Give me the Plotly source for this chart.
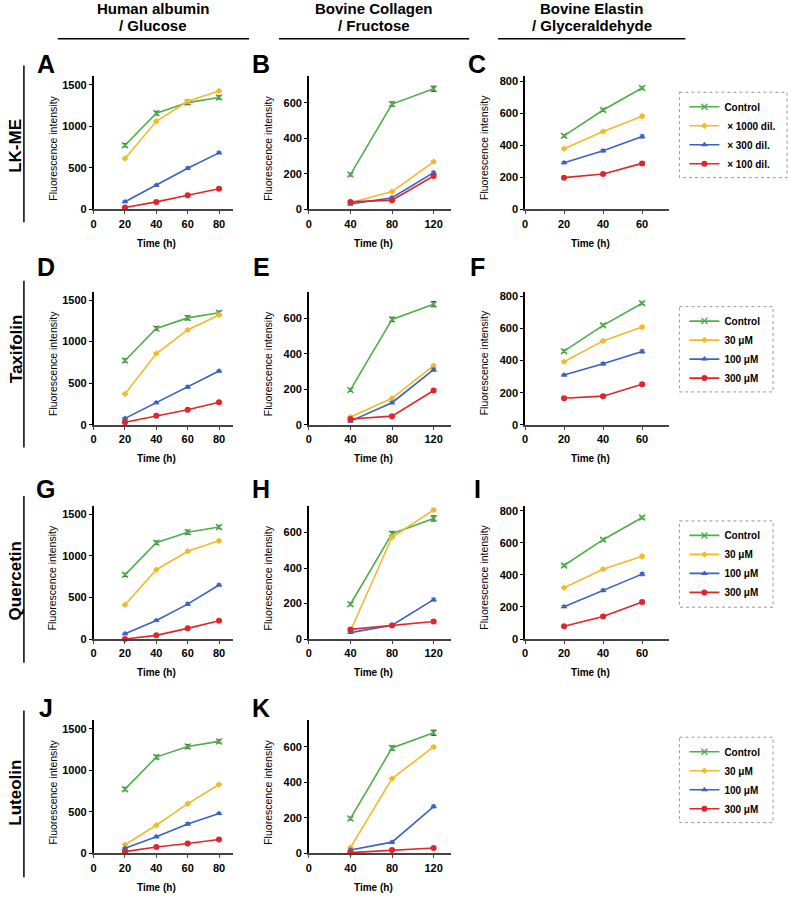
import plotly.graph_objects as go

W, H = 789, 900
FONT = "Liberation Sans, Arial, sans-serif"

# ---------------- data ----------------
TIME_A = [20, 40, 60, 80]
TIME_B = [40, 80, 120]
TIME_C = [20, 40, 60]

CTRL_A = [772, 1158, 1285, 1347]
CTRL_B = [196, 594, 680]
CTRL_C = [459, 620, 758]
CTRL_A_ERR = [20, 22, 25, 20]
CTRL_B_ERR = [8, 12, 15]
CTRL_C_ERR = [8, 8, 8]
TRT_A_ERR = [10, 12, 15, 12]
TRT_B_ERR = [5, 6, 8]
TRT_C_ERR = [6, 8, 10]

A_1000 = [612, 1060, 1300, 1424]
A_300 = [92, 290, 495, 680]
A_100 = [22, 90, 170, 248]
B_1000 = [37, 100, 268]
B_300 = [30, 66, 207]
B_100 = [42, 52, 188]
C_1000 = [378, 486, 581]
C_300 = [291, 366, 455]
C_100 = [198, 221, 287]

D_30 = [370, 856, 1140, 1320]
D_100 = [76, 265, 454, 645]
D_300 = [30, 107, 179, 271]
E_30 = [43, 149, 333]
E_100 = [20, 124, 310]
E_300 = [32, 48, 193]
F_30 = [393, 523, 610]
F_100 = [310, 380, 457]
F_300 = [165, 178, 252]

G_30 = [411, 834, 1055, 1183]
G_100 = [62, 222, 420, 650]
G_300 = [0, 44, 128, 219]
H_30 = [45, 574, 728]
H_100 = [36, 78, 222]
H_300 = [54, 76, 99]
I_30 = [320, 435, 516]
I_100 = [202, 303, 405]
I_300 = [80, 140, 231]

J_30 = [103, 338, 597, 828]
J_100 = [60, 199, 354, 478]
J_300 = [20, 76, 119, 167]
K_30 = [32, 422, 600]
K_100 = [19, 63, 264]
K_300 = [4, 19, 30]

LABELS_DIL = ["Control", "\u00a0× 1000 dil.", "\u00a0× 300 dil.", "\u00a0× 100 dil."]
LABELS_UM = ["Control", "30 μM", "100 μM", "300 μM"]
COL_TITLES = [("Human albumin", "/ Glucose"), ("Bovine Collagen", "/ Fructose"),
              ("Bovine Elastin", "/ Glyceraldehyde")]
ROW_TITLES = ["LK-ME", "Taxifolin", "Quercetin", "Luteolin"]
PANEL_LETTERS = ["A", "B", "C", "D", "E", "F", "G", "H", "I", "J", "K"]

X_TICKS = {1: [0, 20, 40, 60, 80], 2: [0, 40, 80, 120], 3: [0, 20, 40, 60]}
Y_TICKS = {1: [0, 500, 1000, 1500], 2: [0, 200, 400, 600], 3: [0, 200, 400, 600, 800]}
X_RANGE = {1: [0, 89], 2: [0, 137], 3: [0, 74]}
Y_RANGE = {1: [0, 1600], 2: [0, 750], 3: [0, 830]}

# ---------------- style ----------------
COLORS = ["#4EAE48", "#F2B92B", "#3A62C2", "#E0262A"]
SYMBOLS = ["x-thin-open", "diamond", "triangle-up", "circle"]
SIZES = [6, 5, 6, 6]

COL_X = {1: (91, 231), 2: (307, 450), 3: (524, 669)}
ROW_Y = {1: (76, 210), 2: (293, 427), 3: (509, 643), 4: (725, 859)}


def px(x):
    return x / W


def py(y):
    return 1 - y / H


panels = [
    (1, 1, TIME_A, CTRL_A, CTRL_A_ERR, [A_1000, A_300, A_100], TRT_A_ERR),
    (1, 2, TIME_B, CTRL_B, CTRL_B_ERR, [B_1000, B_300, B_100], TRT_B_ERR),
    (1, 3, TIME_C, CTRL_C, CTRL_C_ERR, [C_1000, C_300, C_100], TRT_C_ERR),
    (2, 1, TIME_A, CTRL_A, CTRL_A_ERR, [D_30, D_100, D_300], TRT_A_ERR),
    (2, 2, TIME_B, CTRL_B, CTRL_B_ERR, [E_30, E_100, E_300], TRT_B_ERR),
    (2, 3, TIME_C, CTRL_C, CTRL_C_ERR, [F_30, F_100, F_300], TRT_C_ERR),
    (3, 1, TIME_A, CTRL_A, CTRL_A_ERR, [G_30, G_100, G_300], TRT_A_ERR),
    (3, 2, TIME_B, CTRL_B, CTRL_B_ERR, [H_30, H_100, H_300], TRT_B_ERR),
    (3, 3, TIME_C, CTRL_C, CTRL_C_ERR, [I_30, I_100, I_300], TRT_C_ERR),
    (4, 1, TIME_A, CTRL_A, CTRL_A_ERR, [J_30, J_100, J_300], TRT_A_ERR),
    (4, 2, TIME_B, CTRL_B, CTRL_B_ERR, [K_30, K_100, K_300], TRT_B_ERR),
]
legend_panel = {1: 3, 2: 3, 3: 3, 4: 2}
legend_names = {1: "legend", 2: "legend2", 3: "legend3", 4: "legend4"}

fig = go.Figure()
layout = dict()
annotations = []
shapes = []

for i, (row, col, t, ctrl, cerr, trts, terr) in enumerate(panels):
    n = i + 1
    xa = "x" if n == 1 else f"x{n}"
    ya = "y" if n == 1 else f"y{n}"
    series = [ctrl] + trts
    errs = [cerr] + [terr] * 3
    labels = LABELS_DIL if row == 1 else LABELS_UM
    for s in range(4):
        fig.add_trace(go.Scatter(
            x=t, y=series[s], mode="lines+markers", name=labels[s],
            xaxis=xa, yaxis=ya, cliponaxis=False,
            line=dict(color=COLORS[s], width=1.6),
            marker=dict(symbol=SYMBOLS[s], size=SIZES[s], color=COLORS[s],
                        line=dict(color=COLORS[s], width=1.4 if s == 0 else 0)),
            error_y=dict(type="data", array=errs[s], visible=True,
                         color="#444" if s == 0 else COLORS[s], thickness=1, width=2.5),
            legend=legend_names[row],
            showlegend=(col == legend_panel[row]),
        ))
    x0, x1 = COL_X[col]
    y0, y1 = ROW_Y[row]
    layout["xaxis" if n == 1 else f"xaxis{n}"] = dict(
        domain=[px(x0), px(x1)], anchor=ya, range=X_RANGE[col], tickvals=X_TICKS[col],
        showline=True, linecolor="#444", linewidth=2, ticks="outside", ticklen=3,
        tickcolor="#444", showgrid=False, zeroline=False,
        tickfont=dict(family=FONT, size=11, color="black", weight="bold"))
    layout["yaxis" if n == 1 else f"yaxis{n}"] = dict(
        domain=[py(y1), py(y0)], anchor=xa, range=Y_RANGE[col], tickvals=Y_TICKS[col],
        showline=True, linecolor="black", linewidth=1.5, ticks="outside", ticklen=3,
        tickcolor="black", showgrid=False, zeroline=False,
        tickfont=dict(family=FONT, size=11, color="black", weight="bold"))
    # panel letter
    annotations.append(dict(text=f"<b>{PANEL_LETTERS[i]}</b>", x=px(x0 - 48),
                            y=py({1: 63, 2: 268, 3: 492, 4: 713}[row]),
                            xref="paper", yref="paper", showarrow=False,
                            xanchor="center", yanchor="middle",
                            font=dict(family=FONT, size=25, color="black")))
    # y title
    annotations.append(dict(text="Fluorescence intensity", x=px(x0 - 41),
                            y=py((y0 + y1) / 2 + 5), xref="paper", yref="paper",
                            showarrow=False, textangle=-90, xanchor="center", yanchor="middle",
                            font=dict(family=FONT, size=10.5, color="black")))
    # x title
    annotations.append(dict(text="<b>Time (h)</b>", x=px((x0 + x1) / 2 - 7), y=py(y1 + 34),
                            xref="paper", yref="paper", showarrow=False,
                            xanchor="center", yanchor="middle",
                            font=dict(family=FONT, size=10, color="black")))

# column headers
hdr_lines = [(55, 247), (277, 468), (497, 685)]
for (l1, l2), (a, b) in zip(COL_TITLES, hdr_lines):
    cx = (a + b) / 2
    for txt, yy in [(l1, 8), (l2, 25)]:
        annotations.append(dict(text=f"<b>{txt}</b>", x=px(cx), y=py(yy), xref="paper",
                                yref="paper", showarrow=False, xanchor="center",
                                yanchor="middle", font=dict(family=FONT, size=15, color="black")))
    shapes.append(dict(type="line", xref="paper", yref="paper", x0=px(a), x1=px(b),
                       y0=py(38), y1=py(38), line=dict(color="black", width=1.5)))

# row labels and lines
row_spans = [(65, 223, 146), (282, 450, 350), (499, 667, 584), (715, 883, 798)]
for name, (a, b, c) in zip(ROW_TITLES, row_spans):
    annotations.append(dict(text=f"<b>{name}</b>", x=px(13), y=py(c), xref="paper",
                            yref="paper", showarrow=False, textangle=-90, xanchor="center",
                            yanchor="middle", font=dict(family=FONT, size=17, color="black")))
    shapes.append(dict(type="line", xref="paper", yref="paper", x0=px(21), x1=px(21),
                       y0=py(a), y1=py(b), line=dict(color="black", width=1.5)))

# legend boxes
leg_boxes = [(679, 92, 787, 178), (679, 308, 773, 394), (679, 524, 773, 611), (679, 742, 773, 828)]
for k, (a, b, c, d) in enumerate(leg_boxes):
    shapes.append(dict(type="rect", xref="paper", yref="paper", x0=px(a), x1=px(c),
                       y0=py(b), y1=py(d), line=dict(color="#999", width=1, dash="dot")))
    lname = legend_names[k + 1]
    layout[lname] = dict(x=px(684), y=py(b), xanchor="left", yanchor="top",
                         bgcolor="rgba(0,0,0,0)", borderwidth=0, itemwidth=30,
                         tracegroupgap=0,
                         font=dict(family=FONT, size=10, color="black", weight="bold"))

fig.update_layout(
    width=W, height=H, margin=dict(l=0, r=0, t=0, b=0),
    paper_bgcolor="white", plot_bgcolor="white",
    annotations=annotations, shapes=shapes, **layout,
)

fig.write_html("out.html", config={"displayModeBar": False},
               post_script="document.body.style.margin='0';document.body.style.overflow='hidden';")
